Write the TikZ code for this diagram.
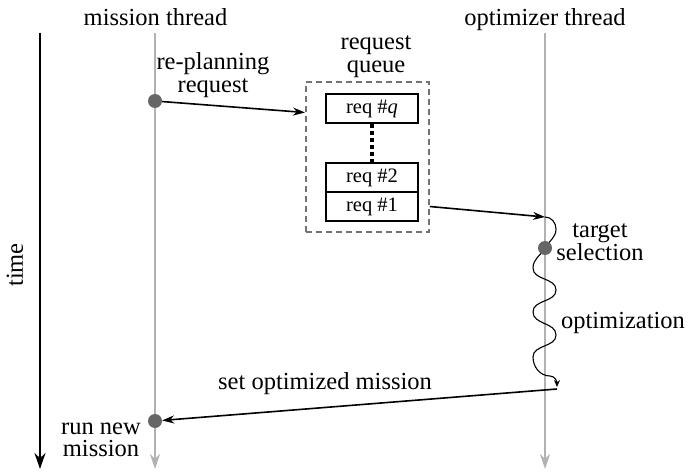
\documentclass[tikz,border=0pt]{standalone}
\usepackage{fontspec}
\setmainfont{LiberationSerif}[Extension=.ttf,UprightFont=*-Regular,ItalicFont=*-Italic,BoldFont=*-Bold]
\usetikzlibrary{arrows.meta}
\definecolor{threadc}{gray}{0.7}
\definecolor{dotc}{gray}{0.4}
\definecolor{dashc}{gray}{0.45}
\begin{document}
\begin{tikzpicture}[x=1pt,y=-1pt,
  font=\rmfamily\fontsize{24.5}{22.5}\selectfont,
  threadline/.style={threadc, line width=2.5pt, -{Stealth[length=15pt,width=10pt]}},
  timeline/.style={black, line width=2.8pt, -{Stealth[length=16pt,width=11pt]}},
  arr/.style={black, line width=1.6pt, -{Stealth[length=12pt,width=8pt]}},
  wave/.style={black, line width=1.1pt, -{Stealth[length=7pt,width=6pt]}},
  dotnode/.style={circle, fill=dotc, minimum size=14pt, inner sep=0pt},
  qbox/.style={draw, line width=1.3pt, minimum width=92pt, minimum height=29pt, inner sep=0pt, font=\rmfamily\fontsize{20.5}{22}\selectfont},
  queuebox/.style={draw=dashc, line width=1.5pt, dash pattern=on 6pt off 4pt, minimum width=123pt, minimum height=150pt, inner sep=0pt},
  dotline/.style={black, line width=4pt, dash pattern=on 4pt off 3pt},
  lbl/.style={inner sep=0pt, align=center}
]
\useasboundingbox (0,0) rectangle (688,473);

% coordinates for the time lines
\coordinate (ttop) at (40,33);   \coordinate (tbot) at (40,469);
\coordinate (mtop) at (155,33);  \coordinate (mbot) at (155,469);
\coordinate (otop) at (545,33);  \coordinate (obot) at (545,469);

\draw[timeline] (ttop) -- (tbot);
\draw[threadline] (mtop) -- (mbot);
\draw[threadline] (otop) -- (obot);

% labels
\node[lbl, anchor=base] (lm) at (155.5,26) {mission thread};
\node[lbl, anchor=base] (lo) at (545,26) {optimizer thread};
\node[lbl, rotate=90] (lt) at (15,265) {time};
\node[lbl] (lrp) at (213,75) {re-planning\\request};
\node[lbl] (lrq) at (376,56.5) {request\\queue};
\node[lbl] (lts) at (600,242) {target\\selection};
\node[lbl, anchor=base] (lopt) at (623,328) {optimization};
\node[lbl, anchor=base] (lset) at (325,389) {set optimized mission};
\node[lbl] (lrun) at (101,440) {run new\\mission};

% request queue
\node[queuebox] (queue) at (367.5,157) {};
\node[qbox] (qq) at (372,108.5) {req \#\textit{q}};
\node[qbox] (q2) at (372,177.5) {req \#2};
\node[qbox] (q1) at (372,206.5) {req \#1};
\draw[dotline] (qq.south) -- (q2.north);

% wave (drawn before dots)
\coordinate (otarget) at (545,217);
\coordinate (oend) at (557,387);
\draw[wave] (otarget) to[out=0,in=90] (556,229) to[out=-90,in=60] (545,248)
  to[out=-120,in=90] (533,268) to[out=-90,in=90] (556,290)
  to[out=-90,in=90] (533,312) to[out=-90,in=90] (556,335)
  to[out=-90,in=90] (533,357) to[out=-90,in=180] (550,376)
  to[out=0,in=90] (oend);

% dots
\node[dotnode] (d1) at (155,101) {};
\node[dotnode] (d2) at (545,248) {};
\node[dotnode] (d3) at (155,421) {};

% arrows
\coordinate (qin) at (305,112.5);
\draw[arr] (d1) -- (qin);
\draw[arr] (q1.east -| queue.east) -- (otarget);
\coordinate (ostart) at (557,389);
\draw[arr] (ostart) -- (d3);
\end{tikzpicture}
\end{document}
